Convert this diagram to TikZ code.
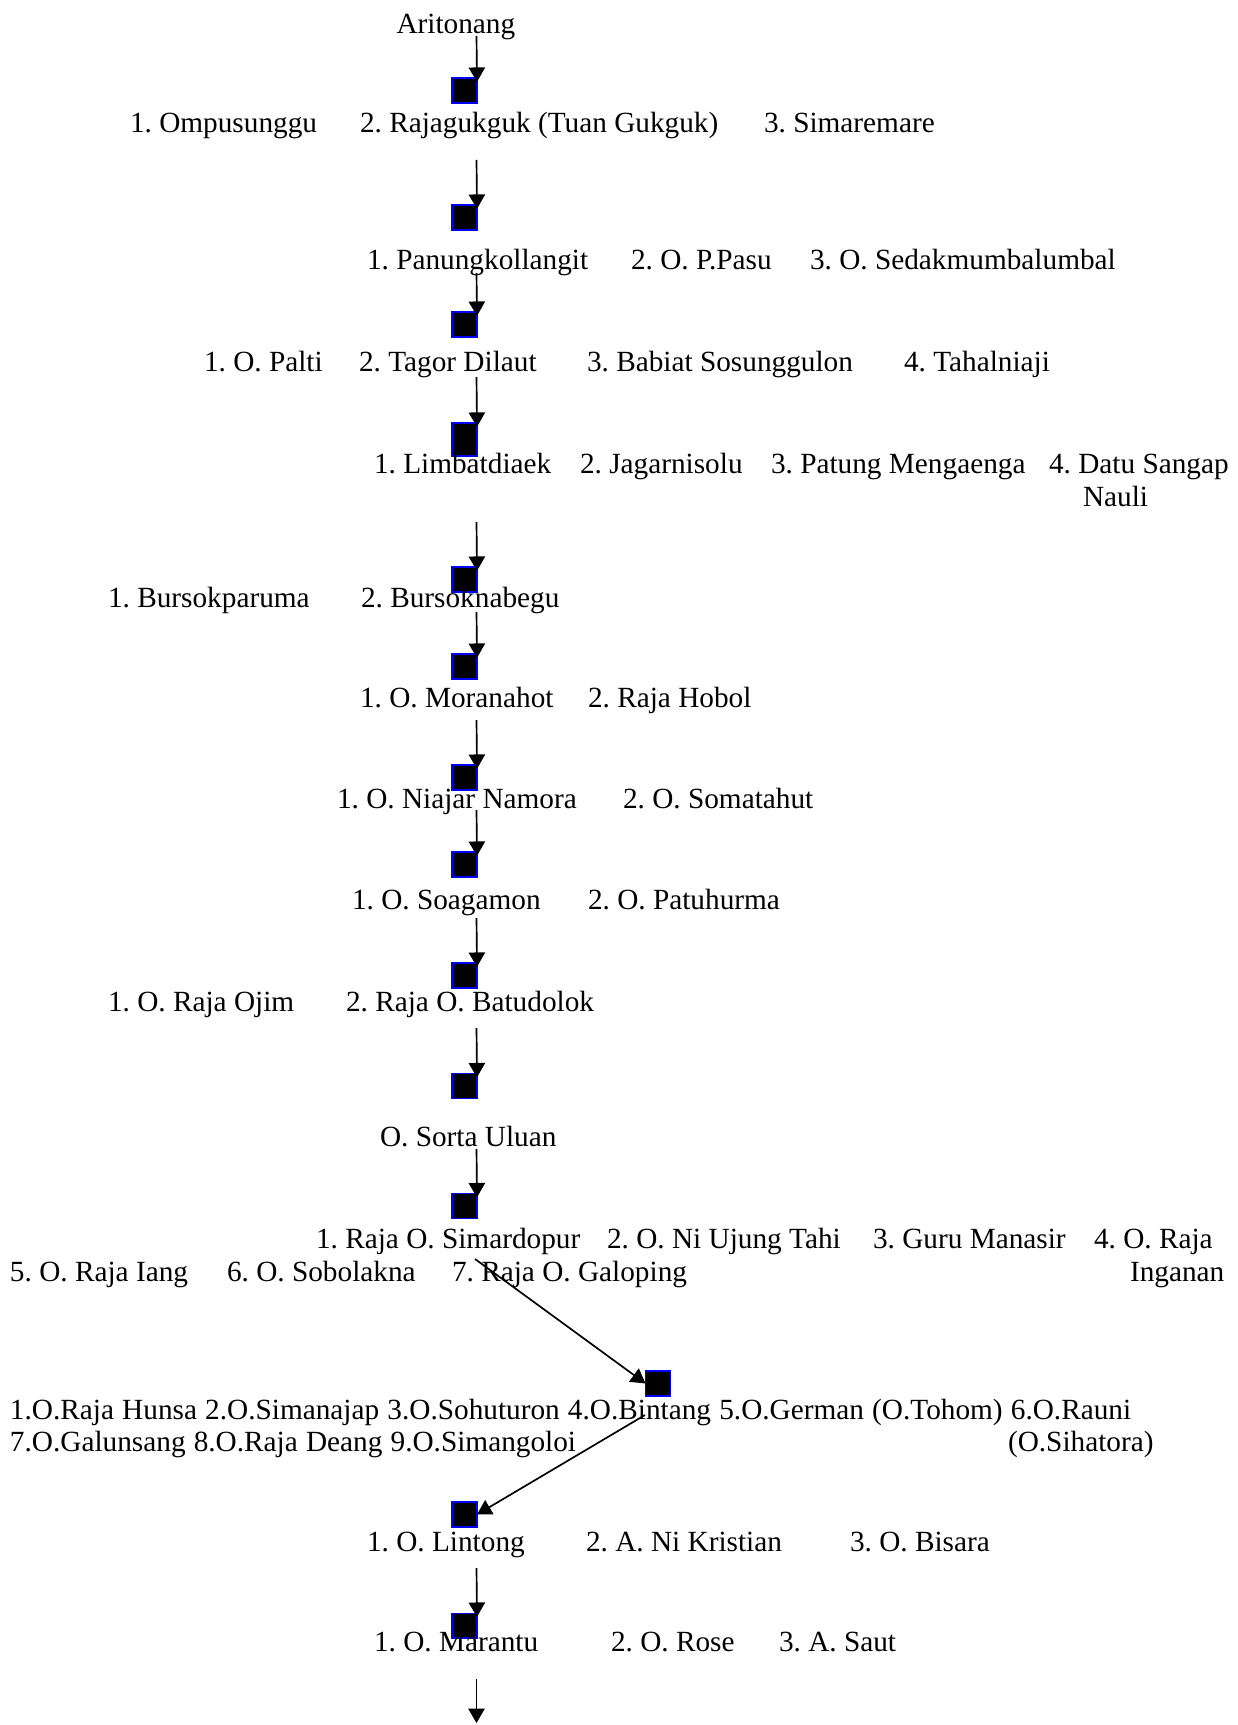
\documentclass[tikz,border=0pt]{standalone}
\usepackage{fontspec}
\setmainfont{Liberation Serif}
\usetikzlibrary{arrows.meta}
\frenchspacing
\newcommand\mywidesp{\spaceskip=3.4pt\relax}
\begin{document}
\begin{tikzpicture}[x=0.41667pt,y=-0.41667pt,
  txt/.style={anchor=base west,inner sep=0pt,outer sep=0pt,font=\fontsize{12.2}{14}\selectfont},
  sq/.style={draw=blue,fill=black,line width=0.45pt,minimum width=10.4pt,minimum height=10.4pt,inner sep=0pt,outer sep=0pt},
  tall/.style={minimum height=13.75pt},
  conn/.style={line width=0.7pt,-{Triangle[length=6pt,width=6.8pt]}},
  into/.style={shorten >=-1.6pt}]
\fill[white] (0,0) rectangle (1237,1725);
\useasboundingbox (0,0) rectangle (1237,1725);

% squares
\node[sq] (s1) at (464.5,90.5) {};
\node[sq] (s2) at (464.5,217.5) {};
\node[sq] (s3) at (464.5,324.5) {};
\node[sq,tall] (s4) at (464.5,439.5) {};
\node[sq] (s5) at (464.5,579.5) {};
\node[sq] (s6) at (464.5,666.5) {};
\node[sq] (s7) at (464.5,777.5) {};
\node[sq] (s8) at (464.5,864.5) {};
\node[sq] (s9) at (464.5,975.5) {};
\node[sq] (s10) at (464.5,1086) {};
\node[sq] (s11) at (464.5,1206) {};
\node[sq] (s12) at (658,1383.5) {};
\node[sq] (s13) at (464.5,1514.5) {};
\node[sq] (s14) at (464.5,1625.5) {};

% texts
\node[txt] (t0) at (396.5,34) {Aritonang};
\node[txt] (r2a) at (130,133) {1. Ompusunggu};
\node[txt] (r2b) at (360,133) {2. Rajagukguk (Tuan Gukguk)};
\node[txt] (r2c) at (764,133) {3. Simaremare};
\node[txt] (r3a) at (367,270) {1. Panungkollangit};
\node[txt] (r3b) at (631,270) {2. O. P.Pasu};
\node[txt] (r3c) at (810,270) {3. O. Sedakmumbalumbal};
\node[txt] (r4a) at (204,371) {1. O. Palti};
\node[txt] (r4b) at (359,371) {2. Tagor Dilaut};
\node[txt] (r4c) at (587,371) {3. Babiat Sosunggulon};
\node[txt] (r4d) at (904,371) {4. Tahalniaji};
\node[txt] (r5a) at (374,473) {1. Limbatdiaek};
\node[txt] (r5b) at (580,473) {2. Jagarnisolu};
\node[txt] (r5c) at (771,473) {3. Patung Mengaenga};
\node[txt] (r5d) at (1049,473) {4. Datu Sangap};
\node[txt] (r5e) at (1083,506) {Nauli};
\node[txt] (r6a) at (108,607) {1. Bursokparuma};
\node[txt] (r6b) at (361,607) {2. Bursoknabegu};
\node[txt] (r7a) at (360,707) {1. O. Moranahot};
\node[txt] (r7b) at (588,707) {2. Raja Hobol};
\node[txt] (r8a) at (337,808) {1. O. Niajar Namora};
\node[txt] (r8b) at (623,808) {2. O. Somatahut};
\node[txt] (r9a) at (352,909) {1. O. Soagamon};
\node[txt] (r9b) at (588,909) {2. O. Patuhurma};
\node[txt] (r10a) at (108,1011) {1. O. Raja Ojim};
\node[txt] (r10b) at (346,1011) {2. Raja O. Batudolok};
\node[txt] (r11) at (380,1146) {O. Sorta Uluan};
\node[txt] (r12a) at (316,1248) {1. Raja O. Simardopur};
\node[txt] (r12b) at (607,1248) {2. O. Ni Ujung Tahi};
\node[txt] (r12c) at (873,1248) {3. Guru Manasir};
\node[txt] (r12d) at (1094,1248) {4. O. Raja};
\node[txt] (r12e) at (10,1281) {5. O. Raja Iang};
\node[txt] (r12f) at (227,1281) {6. O. Sobolakna};
\node[txt] (r12g) at (452,1281) {7. Raja O. Galoping};
\node[txt] (r12h) at (1130,1281) {Inganan};
\node[txt] (r13a) at (10,1419) {\mywidesp 1.O.Raja Hunsa 2.O.Simanajap 3.O.Sohuturon 4.O.Bintang 5.O.German (O.Tohom) 6.O.Rauni};
\node[txt] (r13b) at (10,1451) {\mywidesp 7.O.Galunsang 8.O.Raja Deang 9.O.Simangoloi};
\node[txt] (r13c) at (1008,1451) {(O.Sihatora)};
\node[txt] (r14a) at (367,1551) {1. O. Lintong};
\node[txt] (r14b) at (586,1551) {2. A. Ni Kristian};
\node[txt] (r14c) at (850,1551) {3. O. Bisara};
\node[txt] (r15a) at (374,1651) {1. O. Marantu};
\node[txt] (r15b) at (611,1651) {2. O. Rose};
\node[txt] (r15c) at (779,1651) {3. A. Saut};

% arrow start points
\coordinate (p1) at (476.5,36);
\coordinate (p2) at (476.5,160);
\coordinate (p3) at (476.5,273);
\coordinate (p4) at (476.5,377);
\coordinate (p5) at (476.5,522);
\coordinate (p6) at (476.5,612);
\coordinate (p7) at (476.5,720);
\coordinate (p8) at (476.5,810);
\coordinate (p9) at (476.5,918);
\coordinate (p10) at (476.5,1028);
\coordinate (p11) at (476.5,1149);
\coordinate (p12) at (475,1259);
\coordinate (p13) at (645,1415);
\coordinate (p14) at (476.5,1568);
\coordinate (p15) at (476.5,1679);
\coordinate (e15) at (476.5,1723);

% connectors
\draw[conn,into] (p1) -- (s1.north east);
\draw[conn,into] (p2) -- (s2.north east);
\draw[conn,into] (p3) -- (s3.north east);
\draw[conn,into] (p4) -- (s4.north east);
\draw[conn,into] (p5) -- (s5.north east);
\draw[conn,into] (p6) -- (s6.north east);
\draw[conn,into] (p7) -- (s7.north east);
\draw[conn,into] (p8) -- (s8.north east);
\draw[conn,into] (p9) -- (s9.north east);
\draw[conn,into] (p10) -- (s10.north east);
\draw[conn,into] (p11) -- (s11.north east);
\draw[conn] (p12) -- (s12.west);
\draw[conn] (p13) -- (s13.east);
\draw[conn,into] (p14) -- (s14.north east);
\draw[conn] (p15) -- (e15);
\end{tikzpicture}
\end{document}
